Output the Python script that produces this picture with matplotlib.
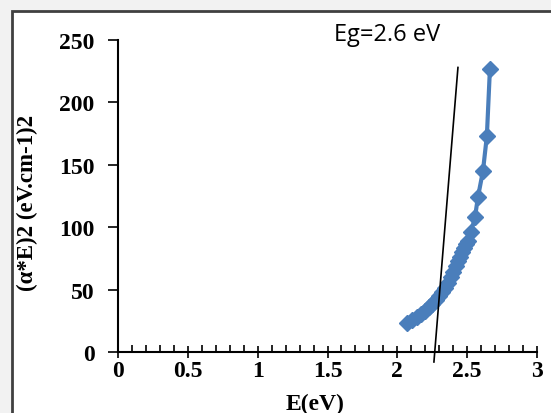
import matplotlib.pyplot as plt
from matplotlib.patches import Rectangle
from matplotlib.ticker import MultipleLocator

# Tauc plot data
energy = [2.069, 2.105, 2.140, 2.169, 2.198, 2.226, 2.248, 2.276, 2.298, 2.319,
          2.341, 2.362, 2.384, 2.398, 2.419, 2.434, 2.448, 2.462, 2.477, 2.491,
          2.505, 2.527, 2.556, 2.577, 2.613, 2.641, 2.663]
alpha_e2 = [23.2, 25.6, 28.0, 30.4, 32.9, 36.1, 38.5, 41.7, 44.9, 48.1,
            51.3, 55.3, 60.1, 64.1, 68.9, 72.9, 76.1, 80.1, 83.3, 86.5,
            89.0, 96.0, 108.0, 124.0, 145.0, 173.0, 227.0]

# linear fit line drawn to the x axis
fit_x = [2.262, 2.434]
fit_y = [-8, 228]

serif = ["Liberation Serif", "DejaVu Serif"]

fig = plt.figure(figsize=(5.51, 4.14), dpi=100)
fig.patch.set_facecolor("#f2f2f2")
frame = Rectangle((12 / 551, -0.1), 1.2, 1 - 12 / 414 + 0.1,
                  transform=fig.transFigure, facecolor="white",
                  edgecolor="#404040", linewidth=2, zorder=-5)
fig.patches.append(frame)

ax = fig.add_axes([118 / 551, 1 - 353 / 414, (537 - 118) / 551, (353 - 41) / 414])
ax.set_zorder(5)
ax.set_facecolor("none")

ax.plot(energy, alpha_e2, color="#4a7ebb", marker="D", markersize=8, linewidth=3)
ax.plot(fit_x, fit_y, color="black", linewidth=1.2, clip_on=False)

ax.set_xlim(0, 3)
ax.set_ylim(0, 250)
ax.xaxis.set_minor_locator(MultipleLocator(0.1))
ax.yaxis.set_major_locator(MultipleLocator(50))
ax.set_xticks([0, 0.5, 1, 1.5, 2, 2.5, 3])
ax.set_xticklabels(["0", "0.5", "1", "1.5", "2", "2.5", "3"])

for s in ["top", "right"]:
    ax.spines[s].set_visible(False)
for s in ["left", "bottom"]:
    ax.spines[s].set_linewidth(1.5)

ax.tick_params(axis="x", which="major", direction="inout", length=8, width=1.2, pad=2)
ax.tick_params(axis="x", which="minor", direction="in", length=5, width=1.2)
ax.tick_params(axis="y", which="major", direction="out", length=7, width=1.2, pad=10)
for lab in ax.get_xticklabels() + ax.get_yticklabels():
    lab.set_fontfamily(serif)
    lab.set_fontweight("bold")
    lab.set_fontsize(17)

ax.set_xlabel("E(eV)", fontfamily=serif, fontweight="bold", fontsize=17)
ax.xaxis.set_label_coords(0.47, -0.165)
ax.xaxis.label.set_va("center")
ax.set_ylabel("(\u03b1*E)2 (eV.cm-1)2", fontfamily=serif, fontweight="bold",
              fontsize=16.5)
ax.yaxis.set_label_coords(-0.215, 0.48)
ax.yaxis.label.set_va("center")

fig.text(387 / 551, 1 - 35 / 414, "Eg=2.6 eV", fontfamily=["Open Sans", "DejaVu Sans"],
         fontsize=17, ha="center", va="center", zorder=6)

fig.savefig("out.png", dpi=100, facecolor=fig.get_facecolor())
